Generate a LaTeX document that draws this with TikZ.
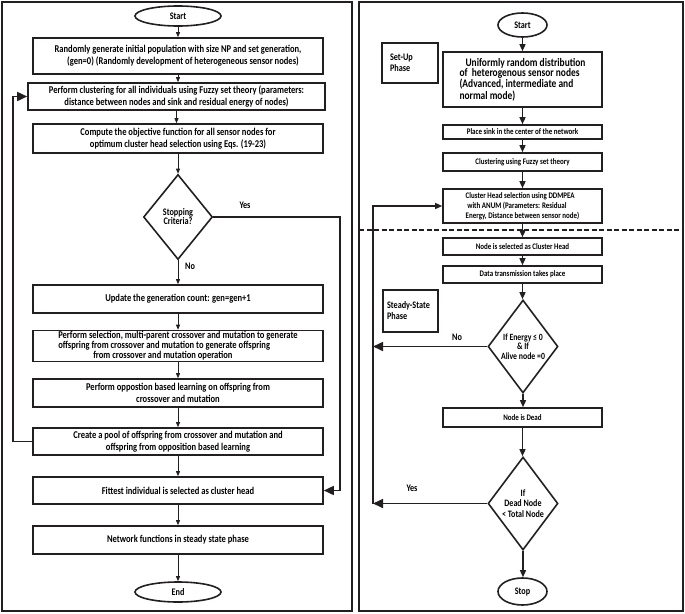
\documentclass[tikz,border=0pt]{standalone}
\usepackage{fontspec}
\setmainfont{Carlito}[FakeStretch=0.82]
\usetikzlibrary{shapes.geometric,arrows.meta}

\definecolor{flowDark}{RGB}{35,31,32}

\tikzset{
  lfont/.style={font=\bfseries\fontsize{10.4}{12}\selectfont},
  rfont/.style={font=\bfseries\fontsize{8.5}{10}\selectfont},
  box/.style={draw, line width=1.6pt, align=center, inner sep=1pt},
  lbox/.style={box, lfont, minimum width=290pt},
  rbox/.style={box, rfont, minimum width=159pt},
  term/.style={draw, ellipse, line width=1.6pt, inner sep=0pt, font=\bfseries\fontsize{10}{11}\selectfont},
  decide/.style={draw, diamond, line width=1.6pt, align=center, inner sep=0pt},
  phasebox/.style={draw, line width=1.3pt, align=left, minimum height=40pt, inner sep=0pt, font=\bfseries\fontsize{10}{11}\selectfont},
  thinarr/.style={line width=0.8pt, -{Triangle[length=5pt,width=4pt]}},
  midarr/.style={line width=1.3pt, -{Triangle[length=7pt,width=6pt]}},
  bigarr/.style={line width=1.6pt, -{Triangle[length=10pt,width=9pt]}}
}

\begin{document}
\begin{tikzpicture}[x=1pt, y=-1pt, flowDark, text=black, font=\bfseries\fontsize{10}{11}\selectfont]
\useasboundingbox (0,0) rectangle (685,613);

\draw[line width=1.6pt] (2,2) rectangle (352,611);
\draw[line width=1.6pt] (359,2) rectangle (683,611);

\begin{scope}
\node[term, minimum width=86pt, minimum height=20pt] (lstart) at (178,16) {Start};
\node[lbox, minimum height=36pt] (gen) at (178,56) {Randomly generate initial population with size NP and set generation,\\ \hspace*{10pt}(gen=0) (Randomly development of heterogeneous sensor nodes)};
\node[box, lfont, minimum width=297pt, minimum height=27pt] (clus) at (176.5,96.5) {Perform clustering for all individuals using Fuzzy set theory (parameters:\\distance between nodes and sink and residual energy of nodes)};
\node[lbox, minimum height=29pt] (obj) at (178,138.5) {Compute the objective function for all sensor nodes for\\optimum cluster head selection using Eqs. (19-23)};
\node[decide, minimum width=69pt, minimum height=85pt, font=\bfseries\fontsize{10}{9}\selectfont] (crit) at (178,217) {Stopping\\Criteria?};
\node[lbox, minimum height=28pt] (upd) at (178,299) {Update the generation count: gen=gen+1};
\node[lbox, minimum height=30pt, align=left, font=\bfseries\fontsize{10.4}{10}\selectfont] (sel) at (178,346) {Perform selection, multi-parent crossover and mutation to generate\\offspring from crossover and mutation to generate offspring\\\hspace*{35pt}from crossover and mutation operation};
\node[lbox, minimum height=28pt] (obl) at (178,393) {Perform oppostion based learning on offspring from\\crossover and mutation};
\node[lbox, minimum height=27pt] (pool) at (178,441.5) {Create a pool of offspring from crossover and mutation and\\offspring from opposition based learning};
\node[lbox, minimum height=27pt] (fit) at (178,490.5) {Fittest individual is selected as cluster head};
\node[lbox, minimum height=28pt] (net) at (178,540) {Network functions in steady state phase};
\node[term, minimum width=86pt, minimum height=20pt] (lend) at (178,592) {End};
\node (yesl) at (245,205) {Yes};
\node (nol) at (190,266) {No};
\end{scope}

\foreach \a/\b in {lstart/gen, gen/clus, clus/obj, obj/crit, crit/upd, upd/sel, sel/obl, obl/pool, pool/fit, fit/net, net/lend}
  \draw[thinarr] (\a.south) -- (\a.south |- \b.north);

\coordinate (yesx) at (340,217);
\coordinate (backx) at (13,441.5);
\draw[bigarr] (crit.east) -- (yesx) |- (fit.east);
\draw[bigarr] (pool.west) -- (backx) |- (clus.west);

\begin{scope}
\node[term, minimum width=49pt, minimum height=24pt] (rstart) at (522.5,25) {Start};
\node[phasebox, minimum width=56pt, text width=40pt] (setup) at (410,63) {Set-Up\\Phase};
\node[rbox, minimum height=55pt, align=left, font=\bfseries\fontsize{11.5}{10}\selectfont] (unif) at (522.5,79.5) {\hspace*{6pt}Uniformly random distribution\\ of\ \ heterogenous sensor nodes\\ (Advanced, intermediate and\\normal mode)};
\node[rbox, minimum height=14pt] (sink) at (522.5,132) {Place sink in the center of the network};
\node[rbox, minimum height=18pt] (fuzzy) at (522.5,162) {Clustering using Fuzzy set theory};
\node[rbox, minimum height=34pt, align=left] (chsel) at (522.5,206) {Cluster Head selection using DDMPEA\\ \ with ANUM (Parameters: Residual\\Energy, Distance between sensor node)};
\node[rbox, minimum height=17pt] (chead) at (522.5,246.5) {Node is selected as Cluster Head};
\node[rbox, minimum height=17pt] (trans) at (522.5,274.5) {Data transmission takes place};
\node[phasebox, minimum width=55pt, minimum height=42pt, text width=47pt] (steady) at (410.5,311) {Steady-State\\Phase};
\node[decide, minimum width=70pt, minimum height=93pt, font=\bfseries\fontsize{9.5}{9.5}\selectfont] (alive) at (523,346.5) {If Energy ≤ 0\\ \& If\\ Alive node =0};
\node[rbox, minimum height=19pt] (dead) at (522.5,417.5) {Node is Dead};
\node[decide, minimum width=70pt, minimum height=93pt, font=\bfseries\fontsize{9.8}{10.5}\selectfont] (total) at (523,503.5) {If\\Dead Node\\< Total Node};
\node[term, minimum width=49pt, minimum height=27pt] (rstop) at (522.5,591.5) {Stop};
\node (nor) at (457,337) {No};
\node (yesr) at (412,488) {Yes};
\end{scope}

\foreach \a/\b in {rstart/unif, unif/sink, sink/fuzzy, fuzzy/chsel, chsel/chead, chead/trans, trans/alive, alive/dead, dead/total, total/rstop}
  \draw[midarr] (\a.south) -- (\a.south |- \b.north);

\draw[line width=1.6pt, dash pattern=on 5pt off 2.5pt] (359,230) -- (683,230);

\coordinate (loopx) at (373,503.5);
\draw[bigarr] (alive.west) -- (alive.west -| loopx);
\draw[bigarr] (total.west) -- (loopx);
\draw[midarr] (loopx) |- (chsel.west);
\end{tikzpicture}
\end{document}
